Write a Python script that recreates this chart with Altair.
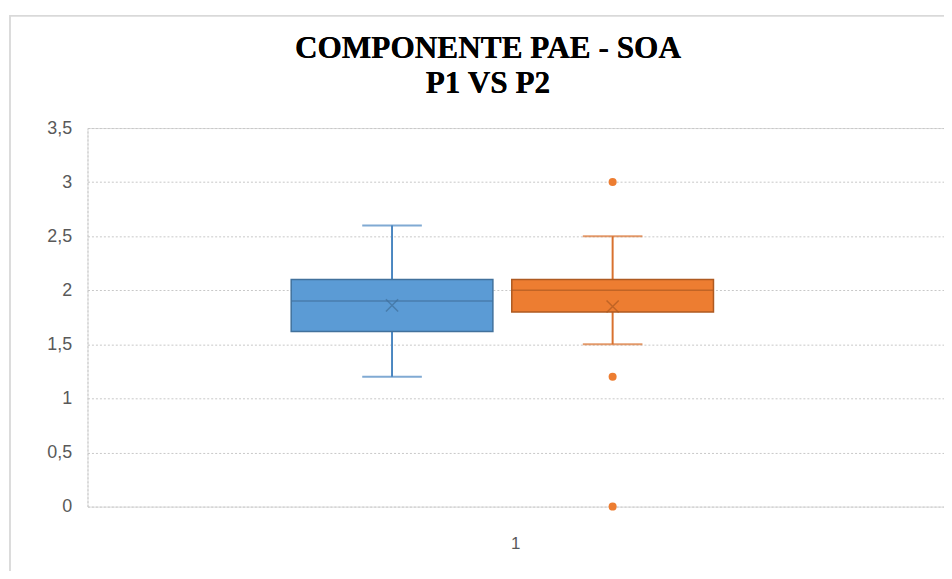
import altair as alt
import pandas as pd

# ---- data ----
category = ["1", "1"]
series = ["P1", "P2"]
q1 = [1.62, 1.80]
median = [1.90, 2.00]
q3 = [2.10, 2.10]
mean = [1.86, 1.85]
whisker_low = [1.20, 1.50]
whisker_high = [2.60, 2.50]
outlier_series = ["P2", "P2", "P2"]
outlier_values = [3.0, 1.2, 0.0]
y_ticks = [0, 0.5, 1, 1.5, 2, 2.5, 3, 3.5]
title_lines = ["COMPONENTE PAE - SOA", "P1 VS P2"]

fill_colors = ["#5B9BD5", "#ED7D31"]
dark_colors = ["#41719C", "#AE5A21"]
whisker_colors = ["#4A86C0", "#D8712E"]

boxes = pd.DataFrame({
    "cat": category, "series": series, "q1": q1, "median": median,
    "q3": q3, "mean": mean, "lo": whisker_low, "hi": whisker_high,
})
outl = pd.DataFrame({"cat": ["1"] * len(outlier_values),
                     "series": outlier_series, "value": outlier_values})

x_enc = alt.X("cat:N", scale=alt.Scale(paddingInner=0, paddingOuter=0),
              axis=alt.Axis(title=None, labelAngle=0, ticks=False, domain=False,
                            grid=False, labelFontSize=17, labelColor="#595959",
                            labelFont="Liberation Sans", labelPadding=29))
xo_enc = alt.XOffset("series:N", scale=alt.Scale(domain=series, range=[205, 630],
                                                  paddingInner=0.0856, paddingOuter=0))
yscale = alt.Scale(domain=[0, 3.5], nice=False)
y_axis = alt.Axis(title=None, values=y_ticks, ticks=False, domain=True,
                  domainColor="#C8C8C8", domainDash=[2, 2],
                  grid=True, gridColor="#C8C8C8", gridDash=[2, 2], gridWidth=1,
                  labelFontSize=18, labelColor="#595959", labelFont="Liberation Sans",
                  labelPadding=16,
                  labelExpr="replace(toString(datum.value), '.', ',')")

def col(rng, ch=alt.Color):
    return ch("series:N", scale=alt.Scale(domain=series, range=rng), legend=None)

base = alt.Chart(boxes)

border = alt.Chart(boxes).mark_rect(fill=None, stroke="#D9D9D9", strokeWidth=1.5).encode(
    x=alt.value(-78), x2=alt.value(900), y=alt.value(-113), y2=alt.value(600))

title1 = alt.Chart(boxes).mark_text(font="Liberation Serif", fontSize=31.5, fontWeight="bold",
                                    color="#000000", baseline="alphabetic").encode(
    x=alt.value(403), y=alt.value(-70), text=alt.value(title_lines[0]))
title2 = alt.Chart(boxes).mark_text(font="Liberation Serif", fontSize=31.5, fontWeight="bold",
                                    color="#000000", baseline="alphabetic").encode(
    x=alt.value(403), y=alt.value(-35), text=alt.value(title_lines[1]))

whisk = base.mark_rule(strokeWidth=2).encode(
    x=x_enc, xOffset=xo_enc,
    y=alt.Y("lo:Q", scale=yscale, axis=y_axis), y2="hi:Q",
    color=col(whisker_colors))

cap_lo = base.mark_tick(size=60, thickness=2).encode(
    x=x_enc, xOffset=xo_enc, y=alt.Y("lo:Q", scale=yscale), color=col(whisker_colors))
cap_hi = base.mark_tick(size=60, thickness=2).encode(
    x=x_enc, xOffset=xo_enc, y=alt.Y("hi:Q", scale=yscale), color=col(whisker_colors))

box = base.mark_bar(strokeWidth=1.5).encode(
    x=x_enc, xOffset=xo_enc,
    y=alt.Y("q1:Q", scale=yscale), y2="q3:Q",
    fill=col(fill_colors, alt.Fill), stroke=col(dark_colors, alt.Stroke))

med = base.mark_tick(size=203, thickness=1.5).encode(
    x=x_enc, xOffset=xo_enc, y=alt.Y("median:Q", scale=yscale), color=col(dark_colors))

mean_pt = base.mark_point(shape="M-1,-1L1,1M1,-1L-1,1", size=150, filled=False,
                          strokeWidth=1.5).encode(
    x=x_enc, xOffset=xo_enc, y=alt.Y("mean:Q", scale=yscale), color=col(dark_colors))

outs = alt.Chart(outl).mark_circle(size=65, opacity=1).encode(
    x=x_enc, xOffset=xo_enc, y=alt.Y("value:Q", scale=yscale), color=col(fill_colors))

chart = alt.layer(border, title1, title2, whisk, cap_lo, cap_hi, box, med, mean_pt, outs).resolve_scale(
    color="independent", fill="independent", stroke="independent"
).properties(
    width=862, height=381,
    padding={"left": 80, "top": 119, "right": 0, "bottom": 63},
    autosize=alt.AutoSizeParams(type="none"),
).configure_view(stroke=None).configure(background="white")

chart.save("out.html", embed_options={"renderer": "svg", "actions": False})
